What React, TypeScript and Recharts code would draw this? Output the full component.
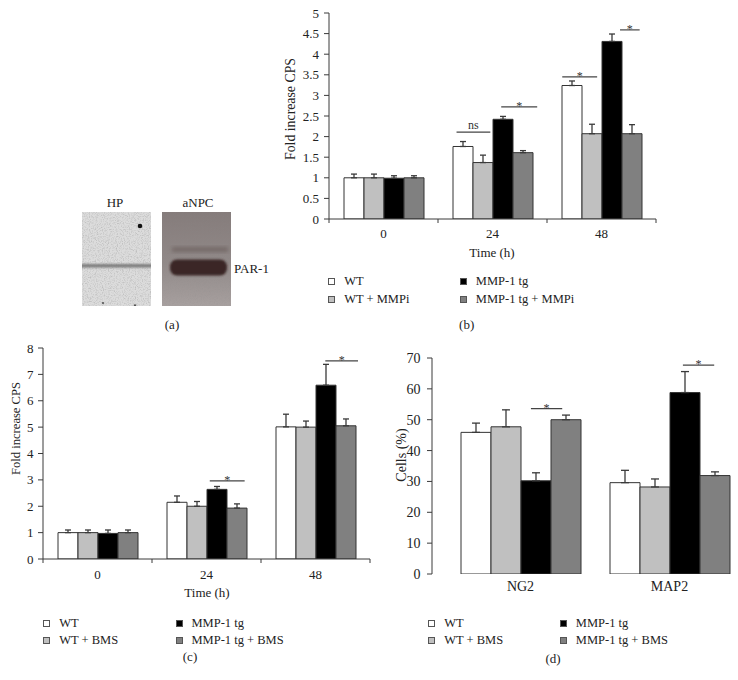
import React from 'react';
import { BarChart, Bar, XAxis, YAxis, ErrorBar, ReferenceLine } from 'recharts';

const FONT = '"Liberation Serif", "Times New Roman", Times, serif';
const AXIS = '#3a3a3a';
const INK = '#222';

const fills = ['#ffffff', '#c0c0c0', '#000000', '#808080'];

// (b) PAR-1 signal with MMP inhibitor
const timesB = ['0', '24', '48'];
const namesB = ['WT', 'WT + MMPi', 'MMP-1 tg', 'MMP-1 tg + MMPi'];
const wtB = [1.0, 1.76, 3.24];
const wtMmpiB = [1.0, 1.37, 2.07];
const tgB = [0.99, 2.42, 4.31];
const tgMmpiB = [1.0, 1.61, 2.07];
const wtBErr = [0.09, 0.12, 0.11];
const wtMmpiBErr = [0.09, 0.18, 0.23];
const tgBErr = [0.06, 0.07, 0.18];
const tgMmpiBErr = [0.05, 0.05, 0.22];
const yTicksB = [0, 0.5, 1, 1.5, 2, 2.5, 3, 3.5, 4, 4.5, 5];
// significance bars: from/to in category units, level in y units
const sigB = [
  { from: 1.17, to: 1.48, level: 2.11, text: 'ns' },
  { from: 1.58, to: 1.91, level: 2.72, text: '*' },
  { from: 2.14, to: 2.46, level: 3.45, text: '*' },
  { from: 2.67, to: 2.85, level: 4.59, text: '*' },
];

// (c) PAR-1 signal with BMS
const timesC = ['0', '24', '48'];
const namesC = ['WT', 'WT + BMS', 'MMP-1 tg', 'MMP-1 tg + BMS'];
const wtC = [1.0, 2.15, 5.01];
const wtBmsC = [1.0, 2.0, 5.0];
const tgC = [0.97, 2.64, 6.59];
const tgBmsC = [1.0, 1.93, 5.05];
const wtCErr = [0.1, 0.24, 0.48];
const wtBmsCErr = [0.1, 0.18, 0.23];
const tgCErr = [0.13, 0.11, 0.79];
const tgBmsCErr = [0.1, 0.16, 0.26];
const yTicksC = [0, 1, 2, 3, 4, 5, 6, 7, 8];
const sigC = [
  { from: 1.53, to: 1.85, level: 2.96, text: '*' },
  { from: 2.59, to: 2.89, level: 7.51, text: '*' },
];

// (d) differentiation markers
const markersD = ['NG2', 'MAP2'];
const wtD = [45.9, 29.6];
const wtBmsD = [47.7, 28.2];
const tgD = [30.2, 58.8];
const tgBmsD = [50.0, 31.9];
const wtDErr = [3.0, 4.0];
const wtBmsDErr = [5.5, 2.6];
const tgDErr = [2.6, 6.8];
const tgBmsDErr = [1.5, 1.2];
const yTicksD = [0, 10, 20, 30, 40, 50, 60, 70];
const sigD = [
  { from: 0.57, to: 0.78, level: 53.6, text: '*' },
  { from: 1.59, to: 1.8, level: 67.7, text: '*' },
];

type Sig = { from: number; to: number; level: number; text: string };

const toRows = (cats: string[], series: number[][], errs: number[][]) =>
  cats.map((name, i) => {
    const row: any = { name };
    series.forEach((s, k) => {
      row['s' + k] = s[i];
      row['e' + k] = errs[k][i];
    });
    return row;
  });

type PanelCfg = {
  cats: string[];
  names: string[];
  series: number[][];
  errs: number[][];
  yTicks: number[];
  sig: Sig[];
  width: number;
  height: number;
  margin: { top: number; right: number; bottom: number; left: number };
  yWidth: number;
  xHeight: number;
  padLeft: number;
  barSize: number;
  capWidth: number;
  axisLine: boolean;
  tickSize: number;
  tickGap: number;
  yTickMargin: number;
  yTitle: string;
  yTitleX: number;
  yTitleDy: number;
  yTitleSize: number;
};

function Panel(c: PanelCfg) {
  const rows = toRows(c.cats, c.series, c.errs);
  const n = c.cats.length;
  const yMax = c.yTicks[c.yTicks.length - 1];
  // width of one category band
  const band = (c.width - c.margin.left - c.margin.right - c.yWidth - c.padLeft) / n;

  const xTick = (p: any) => {
    const x0 = p.x - band / 2;
    const last = p.index === n - 1;
    return (
      <g>
        {c.axisLine && <line x1={x0} x2={x0} y1={p.y} y2={p.y + 4} stroke={AXIS} />}
        {c.axisLine && last && <line x1={x0 + band} x2={x0 + band} y1={p.y} y2={p.y + 4} stroke={AXIS} />}
        <text x={p.x} y={p.y + c.tickGap} textAnchor="middle" dominantBaseline="central"
          fontFamily={FONT} fontSize={c.tickSize} fill={INK}>
          {p.payload.value}
        </text>
      </g>
    );
  };

  return (
    <BarChart width={c.width} height={c.height} data={rows} margin={c.margin} barGap={0} barSize={c.barSize}>
      <XAxis
        dataKey="name"
        interval={0}
        height={c.xHeight}
        padding={{ left: c.padLeft, right: 0 }}
        tickSize={0}
        tickMargin={0}
        tickLine={false}
        axisLine={c.axisLine ? { stroke: AXIS } : false}
        tick={xTick}
      />
      <YAxis
        type="number"
        domain={[0, yMax]}
        ticks={c.yTicks}
        interval={0}
        allowDataOverflow
        width={c.yWidth}
        tickSize={5}
        tickMargin={c.yTickMargin}
        axisLine={{ stroke: AXIS }}
        tickLine={{ stroke: AXIS }}
        tick={{ fill: INK, fontSize: c.tickSize, fontFamily: FONT }}
        label={(p: any) => {
          const vb = p.viewBox;
          const cx = vb.x + c.yTitleX;
          const cy = vb.y + vb.height / 2 + c.yTitleDy;
          return (
            <text transform={`translate(${cx},${cy}) rotate(-90)`} textAnchor="middle" dominantBaseline="central"
              fontFamily={FONT} fontSize={c.yTitleSize} fill={INK}>
              {c.yTitle}
            </text>
          );
        }}
      />
      {c.names.map((nm, k) => (
        <Bar key={nm} dataKey={'s' + k} name={nm} fill={fills[k]} stroke="#333"
          strokeWidth={1} isAnimationActive={false}>
          <ErrorBar dataKey={(r: any) => [0, r['e' + k]]} width={c.capWidth} stroke="#3a3a3a"
            strokeWidth={1.3} direction="y" />
        </Bar>
      ))}
      {c.sig.map((s, i) => {
        const cat = c.cats[Math.floor(s.from)];
        const f0 = s.from - Math.floor(s.from);
        const f1 = s.to - Math.floor(s.from);
        return (
          <ReferenceLine
            key={i}
            segment={[{ x: cat, y: s.level }, { x: cat, y: s.level }]}
            ifOverflow="visible"
            shape={(p: any) => {
              const start = p.x1 - band / 2;
              const xa = start + f0 * band;
              const xb = start + f1 * band;
              return (
                <g>
                  <line x1={xa} x2={xb} y1={p.y1} y2={p.y1} stroke="#444" strokeWidth={1.2} />
                  <text x={(xa + xb) / 2} y={p.y1 + (s.text === '*' ? 3 : -3)} textAnchor="middle"
                    fontFamily={FONT} fontSize={12} fill="#333">
                    {s.text}
                  </text>
                </g>
              );
            }}
          />
        );
      })}
    </BarChart>
  );
}

function Legend({ names, x, y, col }: { names: string[]; x: number; y: number; col: number }) {
  return (
    <>
      {names.map((nm, k) => (
        <div key={nm} style={{
          position: 'absolute', left: x + Math.floor(k / 2) * col - 3.5, top: y + (k % 2) * 17.3 - 8,
          height: 16, display: 'flex', alignItems: 'center', whiteSpace: 'nowrap', fontSize: 12.5,
        }}>
          <span style={{
            display: 'inline-block', width: 7, height: 7, boxSizing: 'border-box',
            border: '1px solid #555', background: fills[k], marginRight: 9,
          }} />
          {nm}
        </div>
      ))}
    </>
  );
}

function Tag({ text, x, y }: { text: string; x: number; y: number }) {
  return (
    <div style={{ position: 'absolute', left: x, top: y, transform: 'translate(-50%, -50%)', fontSize: 13, whiteSpace: 'nowrap' }}>
      {text}
    </div>
  );
}

// western blot, panel (a)
function Blot() {
  return (
    <svg style={{ position: 'absolute', left: 0, top: 0 }} width={300} height={320}>
      <defs>
        <filter id="grain" x="0" y="0" width="100%" height="100%">
          <feTurbulence type="fractalNoise" baseFrequency="0.85" numOctaves="2" seed="4" />
          <feColorMatrix type="matrix" values="0 0 0 0 0.25  0 0 0 0 0.25  0 0 0 0 0.25  0.9 0 0 0 -0.4" />
          <feComposite in2="SourceAlpha" operator="in" />
        </filter>
        <filter id="soft" x="-20%" y="-50%" width="140%" height="200%">
          <feGaussianBlur stdDeviation="1.1" />
        </filter>
        <filter id="soft2" x="-20%" y="-50%" width="140%" height="200%">
          <feGaussianBlur stdDeviation="2.2" />
        </filter>
        <linearGradient id="npcBg" x1="0" y1="0" x2="0" y2="1">
          <stop offset="0" stopColor="#857c7b" />
          <stop offset="0.55" stopColor="#918988" />
          <stop offset="1" stopColor="#a7a09f" />
        </linearGradient>
        <clipPath id="hpClip"><rect x={82} y={212} width={69} height={94} /></clipPath>
        <clipPath id="npcClip"><rect x={162} y={212} width={69} height={94} /></clipPath>
      </defs>
      <text x={115} y={202} textAnchor="middle" dominantBaseline="central" fontFamily={FONT} fontSize={13} fill={INK}>HP</text>
      <text x={198} y={202} textAnchor="middle" dominantBaseline="central" fontFamily={FONT} fontSize={13} fill={INK}>aNPC</text>
      <g clipPath="url(#hpClip)">
        <rect x={82} y={212} width={69} height={94} fill="#dcdcdc" />
        <rect x={82} y={212} width={69} height={94} fill="#000" filter="url(#grain)" />
        <rect x={78} y={264} width={77} height={3.5} fill="#7a7a7a" filter="url(#soft)" />
        <circle cx={140} cy={226} r={2.3} fill="#111" />
        <circle cx={103} cy={303} r={1.1} fill="#555" />
        <circle cx={135} cy={305.5} r={1.2} fill="#555" />
      </g>
      <g clipPath="url(#npcClip)">
        <rect x={162} y={212} width={69} height={94} fill="url(#npcBg)" />
        <rect x={162} y={212} width={69} height={94} fill="#000" filter="url(#grain)" opacity={0.4} />
        <rect x={172} y={247.5} width={56} height={4} fill="#6e6261" filter="url(#soft2)" />
        <rect x={170} y={259.5} width={57} height={16} rx={7} fill="#3a2725" filter="url(#soft)" />
      </g>
      <text x={234} y={268.5} dominantBaseline="central" fontFamily={FONT} fontSize={13} fill={INK}>PAR-1</text>
    </svg>
  );
}

const cfgB: PanelCfg = {
  cats: timesB, names: namesB,
  series: [wtB, wtMmpiB, tgB, tgMmpiB], errs: [wtBErr, wtMmpiBErr, tgBErr, tgMmpiBErr],
  yTicks: yTicksB, sig: sigB,
  width: 400, height: 265, margin: { top: 13, right: 14, bottom: 6, left: 0 },
  yWidth: 59, xHeight: 40, padLeft: 0, barSize: 20, capWidth: 3, axisLine: true,
  tickSize: 13, tickGap: 14.3, yTickMargin: 5,
  yTitle: 'Fold increase CPS', yTitleX: 20.5, yTitleDy: -7, yTitleSize: 13.8,
};

const cfgC: PanelCfg = {
  cats: timesC, names: namesC,
  series: [wtC, wtBmsC, tgC, tgBmsC], errs: [wtCErr, wtBmsCErr, tgCErr, tgBmsCErr],
  yTicks: yTicksC, sig: sigC,
  width: 385, height: 280, margin: { top: 18, right: 15, bottom: 6, left: 0 },
  yWidth: 43, xHeight: 45, padLeft: 0, barSize: 20, capWidth: 3, axisLine: true,
  tickSize: 13, tickGap: 15.7, yTickMargin: 4.5,
  yTitle: 'Fold increase CPS', yTitleX: 16, yTitleDy: -25, yTitleSize: 12.6,
};

const cfgD: PanelCfg = {
  cats: markersD, names: namesC,
  series: [wtD, wtBmsD, tgD, tgBmsD], errs: [wtDErr, wtBmsDErr, tgDErr, tgBmsDErr],
  yTicks: yTicksD, sig: sigD,
  width: 374, height: 270, margin: { top: 28, right: 0, bottom: 6, left: 0 },
  yWidth: 62, xHeight: 20, padLeft: 14, barSize: 30, capWidth: 4, axisLine: false,
  tickSize: 14, tickGap: 12.7, yTickMargin: 6.5,
  yTitle: 'Cells (%)', yTitleX: 31, yTitleDy: -11, yTitleSize: 14,
};

export default function App() {
  return (
    <div style={{
      position: 'absolute', left: 0, top: 0, width: 738, height: 680, overflow: 'hidden',
      background: '#fff', fontFamily: FONT, color: INK,
    }}>
      <Blot />
      <div style={{ position: 'absolute', left: 270, top: 0 }}><Panel {...cfgB} /></div>
      <div style={{ position: 'absolute', left: 0, top: 330 }}><Panel {...cfgC} /></div>
      <div style={{ position: 'absolute', left: 370, top: 330 }}><Panel {...cfgD} /></div>
      <Tag text="Time (h)" x={492} y={253.3} />
      <Tag text="Time (h)" x={207} y={593.3} />
      <Legend names={namesB} x={331.7} y={281.7} col={131.6} />
      <Legend names={namesC} x={46.7} y={623.3} col={132.3} />
      <Legend names={namesC} x={431.7} y={623.3} col={131.6} />
      <Tag text="(a)" x={172} y={325} />
      <Tag text="(b)" x={466.7} y={325} />
      <Tag text="(c)" x={190} y={657} />
      <Tag text="(d)" x={553} y={659} />
    </div>
  );
}
